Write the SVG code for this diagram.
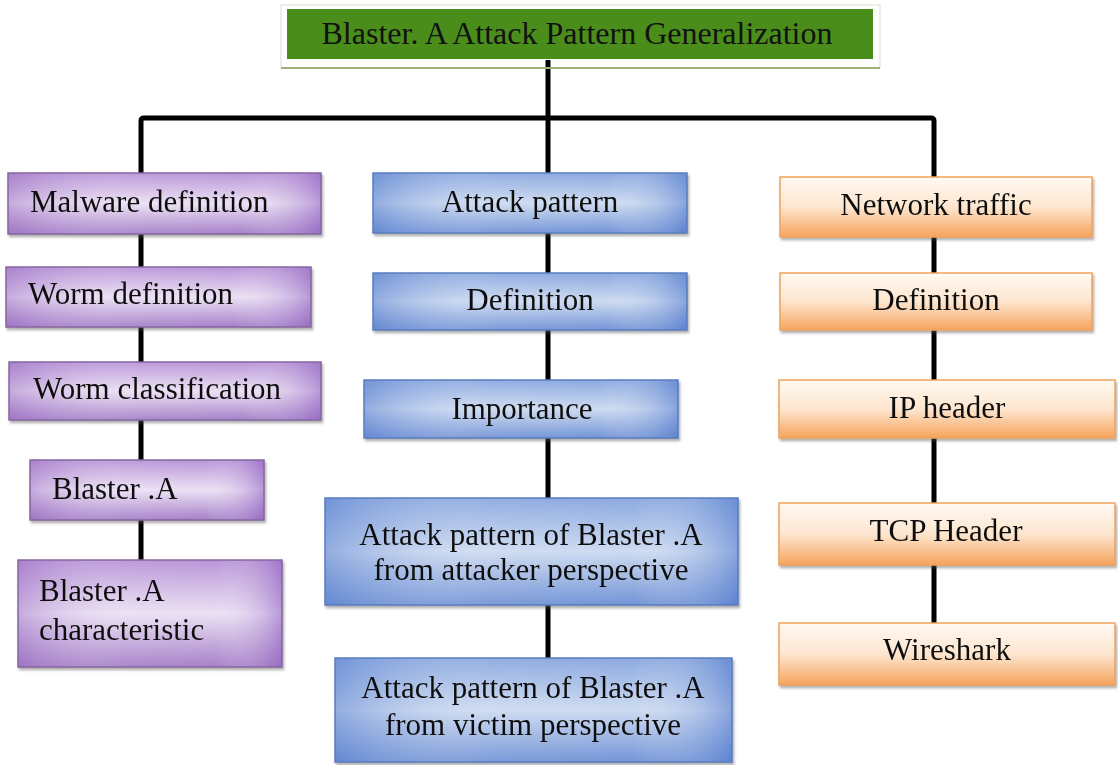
<svg xmlns="http://www.w3.org/2000/svg" width="1118" height="765" viewBox="0 0 1118 765">
<style>
  .t{font-family:"Liberation Serif","Times New Roman",serif;font-size:31px;fill:#111;}
  .tt{font-size:32px;}
  .c{text-anchor:middle;}
  .ln{fill:none;stroke:#000;stroke-width:5;stroke-linejoin:round;}
  .pu{fill:url(#gPu);}
  .puo{fill:url(#gPuH);}
  .pub{stroke:#85679f;stroke-width:1.5;fill:none;}
  .bl{fill:url(#gBl);}
  .blo{fill:url(#gBlH);}
  .blb{stroke:#5a7dbf;stroke-width:1.5;fill:none;}
  .or{fill:url(#gOr);}
  .orb{stroke:#eea35d;stroke-width:1.5;fill:none;}
</style>
<defs>
  <filter id="sh" x="-5%" y="-10%" width="110%" height="130%">
    <feDropShadow dx="1.5" dy="2.5" stdDeviation="1.2" flood-color="#555" flood-opacity="0.45"/>
  </filter>
  <linearGradient id="gPu" x1="0" y1="0" x2="0" y2="1">
    <stop offset="0" stop-color="#b690d6"/>
    <stop offset="0.5" stop-color="#eadff3"/>
    <stop offset="1" stop-color="#a27ac6"/>
  </linearGradient>
  <linearGradient id="gPuH" x1="0" y1="0" x2="1" y2="0">
    <stop offset="0" stop-color="#9a6cc2" stop-opacity="0.45"/>
    <stop offset="0.4" stop-color="#ffffff" stop-opacity="0.1"/>
    <stop offset="0.75" stop-color="#ffffff" stop-opacity="0.05"/>
    <stop offset="1" stop-color="#8e5ec0" stop-opacity="0.55"/>
  </linearGradient>
  <linearGradient id="gBl" x1="0" y1="0" x2="0" y2="1">
    <stop offset="0" stop-color="#86a5de"/>
    <stop offset="0.5" stop-color="#cbd9f0"/>
    <stop offset="1" stop-color="#6c8fd4"/>
  </linearGradient>
  <linearGradient id="gBlH" x1="0" y1="0" x2="1" y2="0">
    <stop offset="0" stop-color="#5a80d0" stop-opacity="0.5"/>
    <stop offset="0.4" stop-color="#ffffff" stop-opacity="0.1"/>
    <stop offset="0.75" stop-color="#ffffff" stop-opacity="0.05"/>
    <stop offset="1" stop-color="#4f78cc" stop-opacity="0.55"/>
  </linearGradient>
  <linearGradient id="gOr" x1="0" y1="0" x2="0" y2="1">
    <stop offset="0" stop-color="#fff9f3"/>
    <stop offset="0.5" stop-color="#fde6cf"/>
    <stop offset="1" stop-color="#f6a35c"/>
  </linearGradient>
</defs>
<rect width="1118" height="765" fill="#ffffff"/>

<g id="connectors">
  <path class="ln" d="M548,60 V173"/>
  <path class="ln" d="M141,173 V121 Q141,118 144,118 H931 Q934,118 934,121 V177"/>
  <path class="ln" d="M141,233 V267 M141,327 V362 M141,420 V460 M141,520 V560"/>
  <path class="ln" d="M548,233 V273 M548,330 V380 M548,438 V498 M548,605 V658"/>
  <path class="ln" d="M934,237 V273 M934,330 V380 M934,438 V503 M934,565 V623"/>
</g>

<g id="title">
  <rect x="281" y="5" width="599" height="63" fill="none" stroke="#dfe5d3" stroke-width="1.2"/>
  <line x1="281" y1="68" x2="880" y2="68" stroke="#9fb07c" stroke-width="2"/>
  <rect x="287" y="9" width="586" height="50" fill="#4a8d1b"/>
  <text class="t tt c" x="577" y="44">Blaster. A Attack Pattern Generalization</text>
</g>

<g id="malware-definition" filter="url(#sh)">
  <rect class="pu" x="8" y="173" width="313" height="61"/>
  <rect class="puo" x="8" y="173" width="313" height="61"/>
  <rect class="pub" x="8" y="173" width="313" height="61"/>
  <text class="t" x="30" y="212">Malware definition</text>
</g>
<g id="worm-definition" filter="url(#sh)">
  <rect class="pu" x="6" y="267" width="305" height="60"/>
  <rect class="puo" x="6" y="267" width="305" height="60"/>
  <rect class="pub" x="6" y="267" width="305" height="60"/>
  <text class="t" x="28" y="304">Worm definition</text>
</g>
<g id="worm-classification" filter="url(#sh)">
  <rect class="pu" x="9" y="362" width="312" height="58"/>
  <rect class="puo" x="9" y="362" width="312" height="58"/>
  <rect class="pub" x="9" y="362" width="312" height="58"/>
  <text class="t" x="33" y="399">Worm classification</text>
</g>
<g id="blaster-a" filter="url(#sh)">
  <rect class="pu" x="30" y="460" width="234" height="60"/>
  <rect class="puo" x="30" y="460" width="234" height="60"/>
  <rect class="pub" x="30" y="460" width="234" height="60"/>
  <text class="t" x="52" y="499">Blaster .A</text>
</g>
<g id="blaster-a-characteristic" filter="url(#sh)">
  <rect class="pu" x="18" y="560" width="264" height="107"/>
  <rect class="puo" x="18" y="560" width="264" height="107"/>
  <rect class="pub" x="18" y="560" width="264" height="107"/>
  <text class="t" x="39" y="601">Blaster .A</text>
  <text class="t" x="39" y="640">characteristic</text>
</g>

<g id="attack-pattern" filter="url(#sh)">
  <rect class="bl" x="373" y="173" width="314" height="60"/>
  <rect class="blo" x="373" y="173" width="314" height="60"/>
  <rect class="blb" x="373" y="173" width="314" height="60"/>
  <text class="t c" x="530" y="212">Attack pattern</text>
</g>
<g id="definition-mid" filter="url(#sh)">
  <rect class="bl" x="373" y="273" width="314" height="57"/>
  <rect class="blo" x="373" y="273" width="314" height="57"/>
  <rect class="blb" x="373" y="273" width="314" height="57"/>
  <text class="t c" x="530" y="310">Definition</text>
</g>
<g id="importance" filter="url(#sh)">
  <rect class="bl" x="364" y="380" width="314" height="58"/>
  <rect class="blo" x="364" y="380" width="314" height="58"/>
  <rect class="blb" x="364" y="380" width="314" height="58"/>
  <text class="t c" x="522" y="419">Importance</text>
</g>
<g id="attacker-perspective" filter="url(#sh)">
  <rect class="bl" x="325" y="498" width="413" height="107"/>
  <rect class="blo" x="325" y="498" width="413" height="107"/>
  <rect class="blb" x="325" y="498" width="413" height="107"/>
  <text class="t c" x="531" y="545">Attack pattern of Blaster .A</text>
  <text class="t c" x="531" y="580">from attacker perspective</text>
</g>
<g id="victim-perspective" filter="url(#sh)">
  <rect class="bl" x="335" y="658" width="397" height="104"/>
  <rect class="blo" x="335" y="658" width="397" height="104"/>
  <rect class="blb" x="335" y="658" width="397" height="104"/>
  <text class="t c" x="533" y="698">Attack pattern of Blaster .A</text>
  <text class="t c" x="533" y="735">from victim perspective</text>
</g>

<g id="network-traffic" filter="url(#sh)">
  <rect class="or" x="780" y="177" width="312" height="60"/>
  <rect class="orb" x="780" y="177" width="312" height="60"/>
  <text class="t c" x="936" y="215">Network traffic</text>
</g>
<g id="definition-right" filter="url(#sh)">
  <rect class="or" x="780" y="273" width="312" height="57"/>
  <rect class="orb" x="780" y="273" width="312" height="57"/>
  <text class="t c" x="936" y="310">Definition</text>
</g>
<g id="ip-header" filter="url(#sh)">
  <rect class="or" x="779" y="380" width="336" height="58"/>
  <rect class="orb" x="779" y="380" width="336" height="58"/>
  <text class="t c" x="947" y="418">IP header</text>
</g>
<g id="tcp-header" filter="url(#sh)">
  <rect class="or" x="779" y="503" width="336" height="62"/>
  <rect class="orb" x="779" y="503" width="336" height="62"/>
  <text class="t c" x="946" y="541">TCP Header</text>
</g>
<g id="wireshark" filter="url(#sh)">
  <rect class="or" x="779" y="623" width="336" height="62"/>
  <rect class="orb" x="779" y="623" width="336" height="62"/>
  <text class="t c" x="947" y="660">Wireshark</text>
</g>
</svg>
